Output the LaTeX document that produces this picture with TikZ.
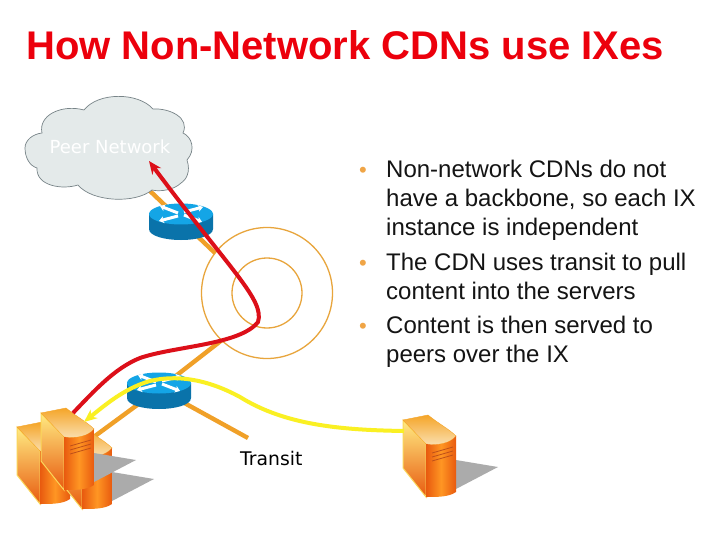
\documentclass[tikz,border=0pt]{standalone}
\usepackage{fontspec}
\setmainfont{Liberation Sans}
\newfontfamily\dejafont{DejaVu Sans}
\usetikzlibrary{arrows.meta}
\definecolor{titlered}{RGB}{236,0,12}
\definecolor{curvered}{RGB}{220,15,25}
\definecolor{curveyellow}{RGB}{250,240,35}
\definecolor{linkorange}{RGB}{240,160,40}
\definecolor{ringorange}{RGB}{232,165,60}
\definecolor{cloudfill}{RGB}{228,234,234}
\definecolor{cloudedge}{RGB}{120,132,136}
\definecolor{routertop}{RGB}{20,165,230}
\definecolor{routerside}{RGB}{10,115,170}
\definecolor{bulletorange}{RGB}{240,165,70}
\definecolor{faceedge}{RGB}{250,215,90}
\definecolor{facelight}{RGB}{255,235,130}
\definecolor{facemid}{RGB}{248,170,70}
\definecolor{facedark}{RGB}{232,90,15}
\definecolor{frontmid}{RGB}{255,150,35}
\definecolor{toplight}{RGB}{250,225,180}
\definecolor{topdark}{RGB}{245,165,40}
\definecolor{ridge}{RGB}{190,80,25}
\tikzset{
  linkline/.style={draw=linkorange,line width=4.4pt},
  ringline/.style={draw=ringorange,line width=1.3pt},
  bodytext/.style={anchor=base west,inner sep=0pt,font=\fontsize{24}{24}\selectfont,text=black!92},
  bulletmark/.style={anchor=base west,inner sep=0pt,font=\fontsize{22}{22}\selectfont,text=bulletorange},
  labeltext/.style={anchor=base west,inner sep=0pt,font=\dejafont\fontsize{18}{18}\selectfont},
  arrowline/.style={line width=4pt,-{Stealth[length=13pt,width=11pt]}}
}
\newcommand{\ServerBox}[2]{%
\begin{scope}[shift={(#1,#2)}]
  \fill[black!33] (53,45) -- (95,52) -- (53,74) -- cycle;
  \path[draw=faceedge,line width=1pt,shading=axis,top color=facelight,middle color=facemid,bottom color=facedark]
     (0,5) -- (23,29) -- (23,82) -- (0,53) -- cycle;
  \path[shading=axis,top color=topdark,bottom color=toplight,draw=topdark,line width=.4pt]
     (0,5) -- (25,0) .. controls (36,9) and (46,14) .. (53,21) .. controls (48,28) and (35,31) .. (23,29) -- cycle;
  \path[shading=axis,left color=facedark,right color=facedark,middle color=frontmid]
     (23,29) .. controls (35,31) and (48,28) .. (53,21) -- (53,77) .. controls (46,82) and (35,82) .. (23,82) -- cycle;
  \draw[ridge,line width=.8pt]
     (29,38) -- (50,32) (29,42) -- (50,36) (29,46) -- (50,40);
\end{scope}}
\newcommand{\RouterBox}[2]{%
\begin{scope}[shift={(#1,#2)}]
  \fill[routerside] (-32,0) -- (-32,15) .. controls (-32,22) and (-16,26) .. (0,26) .. controls (16,26) and (32,22) .. (32,15) -- (32,0) -- cycle;
  \fill[routertop] (0,0) ellipse[x radius=32,y radius=10.5];
  \draw[white,line width=3pt,-{Stealth[length=5pt,width=7pt]}] (-3,-1) -- (-21,-8);
  \draw[white,line width=3pt,-{Stealth[length=5pt,width=7pt]}] (3,1) -- (21,8);
  \draw[white,line width=3pt,-{Stealth[length=5pt,width=7pt]}] (-3,2) -- (-22,7);
  \draw[white,line width=3pt,-{Stealth[length=5pt,width=7pt]}] (3,-2) -- (22,-7);
\end{scope}}
\begin{document}
\begin{tikzpicture}[x=1pt,y=-1pt]
\useasboundingbox (0,0) rectangle (720,540);
\fill[white] (0,0) rectangle (720,540);
% named anchors
\coordinate (cloudfoot) at (150,191);
\coordinate (ringa) at (215,253);
\coordinate (ringb) at (222,340);
\coordinate (rtwo) at (159,389);
\coordinate (srvlink) at (95,436);
\coordinate (transitend) at (248,438);
\coordinate (redstart) at (73,413);
\coordinate (redtip) at (149,161);
\coordinate (yelstart) at (404,431);
\coordinate (yeltip) at (84,422);
% rings
\draw[ringline] (267,293) circle[radius=65.5];
\draw[ringline] (267,293) circle[radius=35];
% links
\draw[linkline] (cloudfoot) -- (ringa);
\draw[linkline] (ringb) -- (rtwo);
\draw[linkline] (rtwo) -- (srvlink);
\draw[linkline] (rtwo) -- (transitend);
% cloud
\path[fill=cloudfill,draw=cloudedge,line width=.7pt]
  (25,148) .. controls (25,140) and (33,134) .. (42,133)
  .. controls (38,115) and (62,104) .. (84,110)
  .. controls (98,92) and (138,92) .. (153,109)
  .. controls (170,108) and (190,118) .. (183,133)
  .. controls (192,137) and (196,150) .. (187,160)
  .. controls (191,172) and (186,180) .. (181,183)
  .. controls (174,190) and (160,192) .. (152,190)
  .. controls (135,204) and (92,202) .. (78,185)
  .. controls (62,190) and (36,186) .. (37,168)
  .. controls (30,166) and (25,158) .. (25,148) -- cycle;
\node[labeltext,text=white] (peerlabel) at (49.5,154) {Peer Network};
% routers
\RouterBox{181}{214}
\RouterBox{159}{383}
% servers
\ServerBox{17}{422}
\ServerBox{59}{427}
\ServerBox{41}{408}
\ServerBox{403}{415}
% curves
\draw[arrowline,draw=curvered] (redstart) .. controls (95,390) and (115,368) .. (140,358)
  .. controls (175,346) and (240,345) .. (258,322)
  .. controls (265,300) and (230,270) .. (redtip);
\draw[arrowline,draw=curveyellow] (yelstart) .. controls (340,430) and (285,425) .. (240,397)
  .. controls (205,378) and (175,375) .. (150,381)
  .. controls (125,388) and (105,405) .. (yeltip);
% text
\node[anchor=base west,inner sep=0pt,font=\dejafont\fontsize{18.8}{18.8}\selectfont,text=black] (transitlabel) at (240,465) {Transit};
\node[anchor=base west,inner sep=0pt,font=\fontsize{40}{40}\selectfont\bfseries,text=titlered] (title) at (26,59.5) {How Non-Network CDNs use IXes};
\node[bulletmark] (bulla) at (359,178) {•};
\node[bulletmark] (bullb) at (359,270) {•};
\node[bulletmark] (bullc) at (359,333) {•};
\node[bodytext] (la) at (386,178) {Non-network CDNs do not};
\node[bodytext] (lb) at (386,207) {have a backbone, so each IX};
\node[bodytext] (lc) at (386,236) {instance is independent};
\node[bodytext] (ld) at (386,270) {The CDN uses transit to pull};
\node[bodytext] (le) at (386,299) {content into the servers};
\node[bodytext] (lf) at (386,333) {Content is then served to};
\node[bodytext] (lg) at (386,362) {peers over the IX};
\end{tikzpicture}
\end{document}
